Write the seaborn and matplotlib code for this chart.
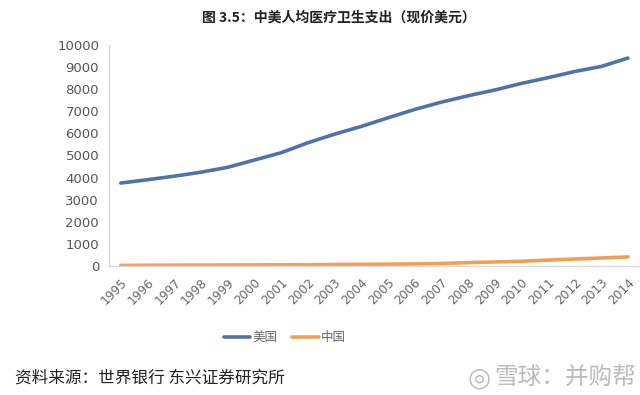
import numpy as np
import pandas as pd
import matplotlib
matplotlib.use("Agg")
import matplotlib.pyplot as plt
from matplotlib.lines import Line2D
import seaborn as sns

years = list(range(1995, 2015))
us_spend = [3750, 3900, 4060, 4240, 4460, 4790, 5120, 5570, 5960, 6310,
            6700, 7080, 7410, 7700, 7960, 8260, 8520, 8800, 9030, 9410]
cn_spend = [21, 25, 30, 34, 38, 43, 47, 51, 58, 66,
            76, 87, 106, 146, 175, 205, 260, 310, 355, 405]
series_names = ["美国", "中国"]
y_ticks = list(range(0, 10001, 1000))

title = "图 3.5：中美人均医疗卫生支出（现价美元）"
source = "资料来源：世界银行 东兴证券研究所"
mark = "雪球：并购帮"

colors = ["#4E74A6", "#F0A052"]

df = pd.DataFrame({
    "year": years * 2,
    "value": us_spend + cn_spend,
    "country": [series_names[0]] * len(years) + [series_names[1]] * len(years),
})

sns.set_style("white")
plt.rcParams['font.family'] = ['Noto Sans CJK SC', 'DejaVu Sans']

fig = plt.figure(figsize=(6.4, 3.95), dpi=100)
ax = fig.add_axes([0.170, 0.327, 0.830, 0.559])

sns.lineplot(data=df, x="year", y="value", hue="country",
             palette=colors, linewidth=2.6, ax=ax, legend=False)

ax.set_xlim(1994.55, 2014.45)
ax.set_ylim(0, 10000)
ax.set_yticks(y_ticks)
ax.set_yticklabels([str(v) for v in y_ticks], fontsize=9.5, color="#555555", family="DejaVu Sans")
ax.set_xticks(years)
ax.set_xticklabels([str(y) for y in years], rotation=45, ha="right", va="top",
                   rotation_mode="anchor", fontsize=8.8, color="#666666", family="DejaVu Sans")
ax.tick_params(axis="both", length=0, pad=7)
ax.set_xlabel("")
ax.set_ylabel("")
for s in ["top", "right"]:
    ax.spines[s].set_visible(False)
for s in ["left", "bottom"]:
    ax.spines[s].set_color("#d9d9d9")
    ax.spines[s].set_linewidth(1)

handles = [Line2D([0], [0], color=colors[0], lw=2.6),
           Line2D([0], [0], color=colors[1], lw=2.6)]
fig.legend(handles, series_names, loc="center", bbox_to_anchor=(0.445, 0.145),
           ncol=2, frameon=False, fontsize=9, handlelength=2.1, handletextpad=0.2,
           columnspacing=1.2, labelcolor="#666666")

fig.text(0.53, 0.955, title, ha="center", va="center", fontsize=10, fontweight="bold", color="#222222")
fig.text(0.023, 0.043, source, ha="left", va="center", fontsize=12, style="italic", color="#222222")
fig.text(0.993, 0.043, mark, ha="right", va="center", fontsize=17, color="#bbbbbb")
fig.text(0.748, 0.043, "◎", ha="center", va="center", fontsize=19, color="#bbbbbb",
         family=["DejaVu Sans"])

fig.savefig("out.png", dpi=100)
